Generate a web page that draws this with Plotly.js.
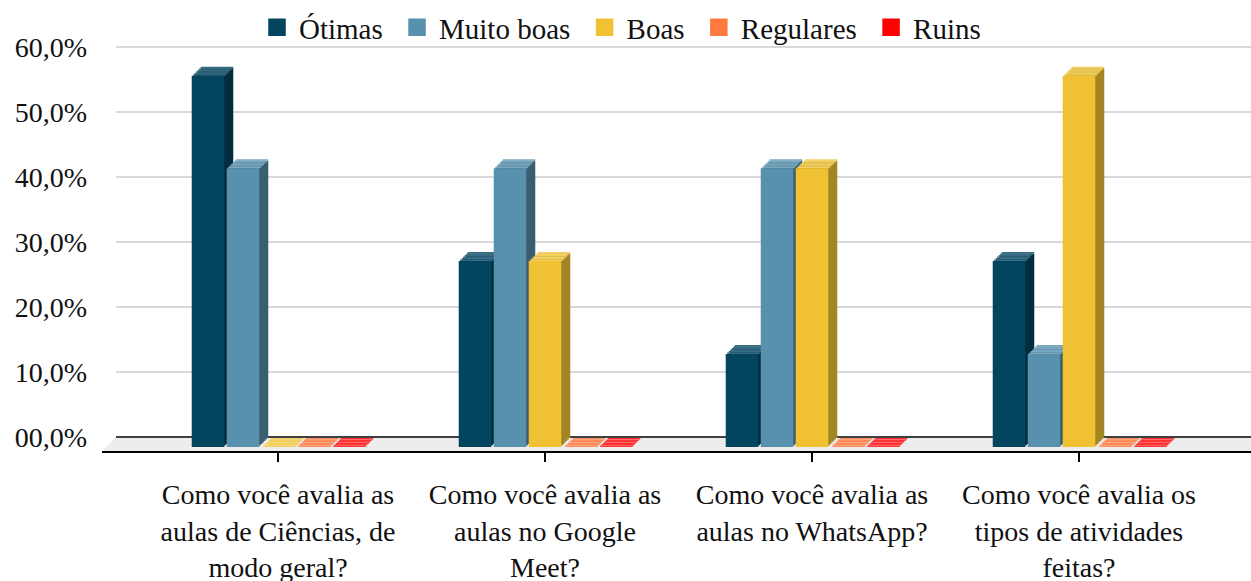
<!DOCTYPE html>
<html>
<head>
<meta charset="utf-8">
<script src="https://cdn.plot.ly/plotly-3.0.1.min.js"></script>
<style>html,body{margin:0;padding:0;background:#fff;}#chart{width:1251px;height:581px;}</style>
</head>
<body>
<div id="chart"></div>
<script>
// ---------- DATA ----------
const categories = [
  'Como você avalia as<br>aulas de Ciências, de<br>modo geral?',
  'Como você avalia as<br>aulas no Google<br>Meet?',
  'Como você avalia as<br>aulas no WhatsApp?',
  'Como você avalia os<br>tipos de atividades<br>feitas?'
];
const seriesNames = ['Ótimas', 'Muito boas', 'Boas', 'Regulares', 'Ruins'];
const otimas    = [57.1, 28.6, 14.3, 28.6];
const muitoBoas = [42.9, 42.9, 42.9, 14.3];
const boas      = [0.0, 28.6, 42.9, 57.1];
const regulares = [0.0, 0.0, 0.0, 0.0];
const ruins     = [0.0, 0.0, 0.0, 0.0];
const yTickVals = [0, 10, 20, 30, 40, 50, 60];
const yTickText = ['00,0%', '10,0%', '20,0%', '30,0%', '40,0%', '50,0%', '60,0%'];

// ---------- STYLE ----------
const frontColors = ['#03455F', '#5891AE', '#F0C233', '#FF7A3F', '#FF0000'];
const topColors   = ['#356A82', '#79A7BF', '#F3CF5E', '#FF8C5A', '#FF3535'];
const sideColors  = ['#022E40', '#3A5E70', '#A38524', '#B0552B', '#B00000'];
const seriesValues = [otimas, muitoBoas, boas, regulares, ruins];

const W = 1251, H = 581;
const ppu = 6.5;          // px per percent
const catPx = 267;        // px per category
const cat0 = 278;         // px of first category centre
const frontZero = 447;    // px of value 0 for bar front faces
const backZero = 437;     // px of value 0 on back wall
const floorFront = 451;
const depth = 9, steps = 6, s = depth / steps;
const FONT = '"Liberation Serif", "DejaVu Serif", serif';

function xRange(leftPx, shift) {
  return [(leftPx - cat0 - shift) / catPx, (W - cat0 - shift) / catPx];
}
function yRange(zeroPy) {
  return [-(H - zeroPy) / ppu, zeroPy / ppu];
}
const xIdx = categories.map((c, i) => i);

const traces = [];
const layout = {
  width: W, height: H,
  margin: {l: 0, r: 0, t: 0, b: 0},
  paper_bgcolor: '#ffffff',
  plot_bgcolor: 'rgba(0,0,0,0)',
  barmode: 'group',
  bargap: 0.3446,
  bargroupgap: 0.07,
  font: {family: FONT, size: 27, color: '#111111'},
  showlegend: true,
  legend: {
    orientation: 'h', x: 255 / W, xanchor: 'left', y: 1 - 2 / H, yanchor: 'top',
    itemwidth: 34,
    font: {family: FONT, size: 29, color: '#111111'},
    itemclick: false, itemdoubleclick: false, bgcolor: 'rgba(0,0,0,0)'
  },
  shapes: [{
    type: 'path', xref: 'paper', yref: 'paper', layer: 'below',
    path: 'M' + (116 / W) + ',' + (1 - backZero / H) + ' L1,' + (1 - backZero / H) +
          ' L1,' + (1 - floorFront / H) + ' L' + (102 / W) + ',' + (1 - floorFront / H) + ' Z',
    fillcolor: '#EDEDED', line: {width: 0}
  }]
};

// back wall subplot (gridlines + y labels)
layout.xaxis = {domain: [116 / W, 1], range: xRange(116, 0), type: 'linear', anchor: 'y',
  showgrid: false, zeroline: false, showline: false, showticklabels: false, ticks: '', fixedrange: true};
layout.yaxis = {domain: [0, 1], range: yRange(backZero), anchor: 'x', type: 'linear',
  tickmode: 'array', tickvals: yTickVals, ticktext: yTickText,
  showgrid: true, gridcolor: '#D9D9D9', gridwidth: 1.5,
  zeroline: true, zerolinecolor: '#404040', zerolinewidth: 1.2,
  showline: false, ticks: '', ticklabelstandoff: 28,
  tickfont: {family: FONT, size: 28, color: '#111111'}, fixedrange: true};
traces.push({type: 'scatter', x: [], y: [], xaxis: 'x', yaxis: 'y', showlegend: false, hoverinfo: 'skip'});

// depth layers (back to front)
let ax = 2;
for (let k = steps; k >= 1; k--) {
  const sh = k * s;
  layout['xaxis' + ax] = {domain: [0, 1], range: xRange(0, sh), type: 'linear', anchor: 'y' + ax, visible: false, fixedrange: true};
  layout['yaxis' + ax] = {domain: [0, 1], range: yRange(frontZero - sh), type: 'linear', anchor: 'x' + ax, visible: false, fixedrange: true};
  seriesNames.forEach((name, j) => {
    const vals = seriesValues[j];
    traces.push({type: 'bar', name: name, x: xIdx, y: vals.map(v => Math.max(0, v - s / ppu)), xaxis: 'x' + ax, yaxis: 'y' + ax,
      offsetgroup: name, marker: {color: sideColors[j], line: {width: 0}}, showlegend: false, hoverinfo: 'skip'});
    traces.push({type: 'bar', name: name, x: xIdx, y: vals.map(() => s / ppu), base: vals.map(v => v - s / ppu),
      xaxis: 'x' + ax, yaxis: 'y' + ax,
      offsetgroup: name, marker: {color: topColors[j], line: {width: 0}}, showlegend: false, hoverinfo: 'skip'});
  });
  ax++;
}

// front faces + category axis
layout['xaxis' + ax] = {domain: [102 / W, 1], range: xRange(102, 0), type: 'linear', anchor: 'free',
  position: 1 - floorFront / H, side: 'bottom',
  tickmode: 'array', tickvals: xIdx, ticktext: categories,
  showline: true, linecolor: '#000000', linewidth: 1.5,
  ticks: 'outside', ticklen: 9, tickwidth: 1.5, tickcolor: '#000000',
  showgrid: false, zeroline: false, ticklabelstandoff: 9,
  tickfont: {family: FONT, size: 28, color: '#111111'}, fixedrange: true};
layout['yaxis' + ax] = {domain: [0, 1], range: yRange(frontZero), type: 'linear', anchor: 'x' + ax, visible: false, fixedrange: true};
seriesNames.forEach((name, j) => {
  traces.push({type: 'bar', name: name, x: xIdx, y: seriesValues[j], xaxis: 'x' + ax, yaxis: 'y' + ax,
    offsetgroup: name, marker: {color: frontColors[j], line: {width: 0}}, showlegend: false, hoverinfo: 'skip'});
});
// legend entries (square swatches)
seriesNames.forEach((name, j) => {
  traces.push({type: 'scatter', mode: 'markers', name: name + '\u00A0', x: [null], y: [null], xaxis: 'x' + ax, yaxis: 'y' + ax,
    marker: {symbol: 'square', size: 16, color: frontColors[j], line: {width: 1.5, color: frontColors[j]}},
    showlegend: true, hoverinfo: 'skip'});
});

Plotly.newPlot('chart', traces, layout, {displayModeBar: false, staticPlot: true});
</script>
</body>
</html>
